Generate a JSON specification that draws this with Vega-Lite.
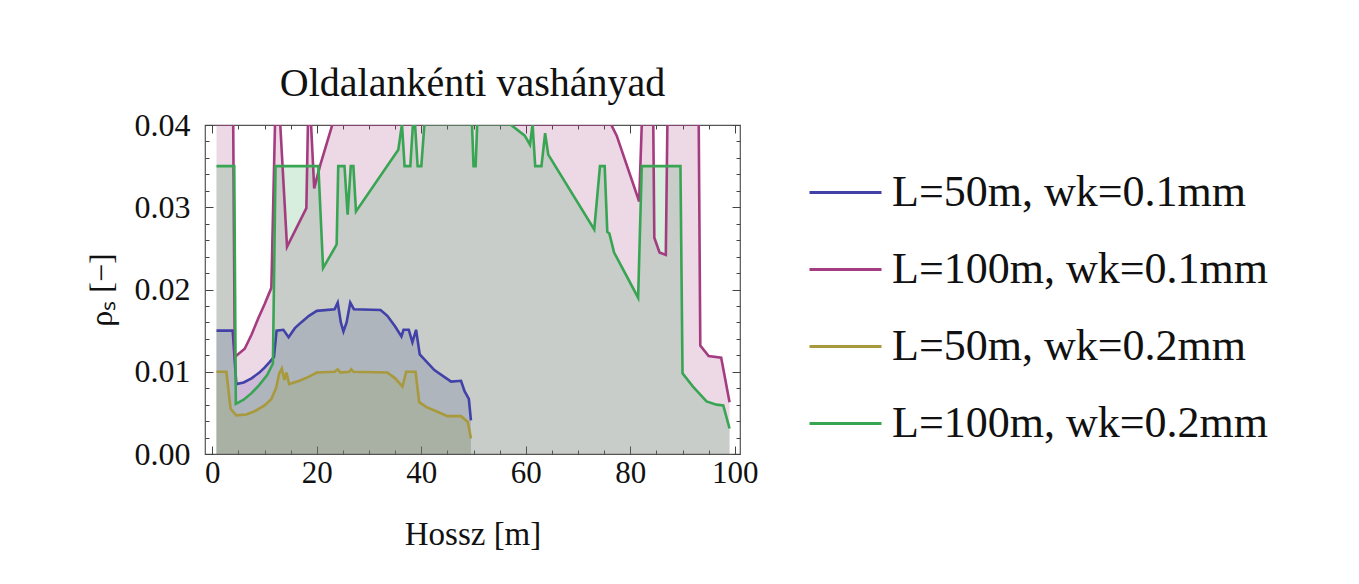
{
  "$schema": "https://vega.github.io/schema/vega-lite/v6.json",
  "autosize": {"type": "none"},
  "width": 535,
  "height": 329,
  "padding": {"left": 205, "top": 125, "right": 619, "bottom": 130},
  "background": "white",
  "config": {
    "font": "Liberation Serif",
    "view": {"stroke": "#555555", "strokeWidth": 1.2},
    "axis": {"labelFont": "Liberation Serif", "titleFont": "Liberation Serif", "labelColor": "#111", "titleColor": "#111", "titleFontWeight": "normal", "domain": false, "tickColor": "#444", "gridColor": "#8a8a8a", "gridWidth": 1},
    "legend": {"labelFont": "Liberation Serif"},
    "title": {"font": "Liberation Serif", "fontWeight": "normal", "color": "#111"}
  },
  "title": {"text": "Oldalankénti vashányad", "fontSize": 40, "anchor": "middle", "offset": 5},
  "data": {"values": [
    {"s": "L=50m, wk=0.1mm", "x": 0.8, "y": 0.0150},
    {"s": "L=50m, wk=0.1mm", "x": 3.9, "y": 0.0150},
    {"s": "L=50m, wk=0.1mm", "x": 4.6, "y": 0.0085},
    {"s": "L=50m, wk=0.1mm", "x": 6.0, "y": 0.0087},
    {"s": "L=50m, wk=0.1mm", "x": 7.5, "y": 0.0092},
    {"s": "L=50m, wk=0.1mm", "x": 9.0, "y": 0.0099},
    {"s": "L=50m, wk=0.1mm", "x": 10.0, "y": 0.0105},
    {"s": "L=50m, wk=0.1mm", "x": 11.0, "y": 0.0112},
    {"s": "L=50m, wk=0.1mm", "x": 11.8, "y": 0.0118},
    {"s": "L=50m, wk=0.1mm", "x": 12.3, "y": 0.0150},
    {"s": "L=50m, wk=0.1mm", "x": 13.6, "y": 0.0151},
    {"s": "L=50m, wk=0.1mm", "x": 14.6, "y": 0.0142},
    {"s": "L=50m, wk=0.1mm", "x": 15.8, "y": 0.0153},
    {"s": "L=50m, wk=0.1mm", "x": 17.0, "y": 0.0160},
    {"s": "L=50m, wk=0.1mm", "x": 18.5, "y": 0.0168},
    {"s": "L=50m, wk=0.1mm", "x": 20.0, "y": 0.0174},
    {"s": "L=50m, wk=0.1mm", "x": 23.4, "y": 0.0176},
    {"s": "L=50m, wk=0.1mm", "x": 24.0, "y": 0.0184},
    {"s": "L=50m, wk=0.1mm", "x": 24.6, "y": 0.0160},
    {"s": "L=50m, wk=0.1mm", "x": 25.1, "y": 0.0149},
    {"s": "L=50m, wk=0.1mm", "x": 25.7, "y": 0.0160},
    {"s": "L=50m, wk=0.1mm", "x": 26.4, "y": 0.0184},
    {"s": "L=50m, wk=0.1mm", "x": 27.1, "y": 0.0176},
    {"s": "L=50m, wk=0.1mm", "x": 32.2, "y": 0.0175},
    {"s": "L=50m, wk=0.1mm", "x": 33.5, "y": 0.0168},
    {"s": "L=50m, wk=0.1mm", "x": 35.0, "y": 0.0155},
    {"s": "L=50m, wk=0.1mm", "x": 36.2, "y": 0.0143},
    {"s": "L=50m, wk=0.1mm", "x": 36.6, "y": 0.0151},
    {"s": "L=50m, wk=0.1mm", "x": 37.6, "y": 0.0151},
    {"s": "L=50m, wk=0.1mm", "x": 38.3, "y": 0.0136},
    {"s": "L=50m, wk=0.1mm", "x": 39.0, "y": 0.0151},
    {"s": "L=50m, wk=0.1mm", "x": 39.7, "y": 0.0121},
    {"s": "L=50m, wk=0.1mm", "x": 42.5, "y": 0.0102},
    {"s": "L=50m, wk=0.1mm", "x": 45.7, "y": 0.0088},
    {"s": "L=50m, wk=0.1mm", "x": 47.6, "y": 0.0089},
    {"s": "L=50m, wk=0.1mm", "x": 48.3, "y": 0.0076},
    {"s": "L=50m, wk=0.1mm", "x": 49.1, "y": 0.0067},
    {"s": "L=50m, wk=0.1mm", "x": 49.5, "y": 0.0041},

    {"s": "L=100m, wk=0.1mm", "x": 0.8, "y": 0.0401},
    {"s": "L=100m, wk=0.1mm", "x": 4.0, "y": 0.0401},
    {"s": "L=100m, wk=0.1mm", "x": 4.3, "y": 0.0118},
    {"s": "L=100m, wk=0.1mm", "x": 6.2, "y": 0.0128},
    {"s": "L=100m, wk=0.1mm", "x": 7.5, "y": 0.0145},
    {"s": "L=100m, wk=0.1mm", "x": 8.8, "y": 0.0165},
    {"s": "L=100m, wk=0.1mm", "x": 10.0, "y": 0.0182},
    {"s": "L=100m, wk=0.1mm", "x": 11.3, "y": 0.0202},
    {"s": "L=100m, wk=0.1mm", "x": 12.0, "y": 0.0401},
    {"s": "L=100m, wk=0.1mm", "x": 13.0, "y": 0.0401},
    {"s": "L=100m, wk=0.1mm", "x": 14.3, "y": 0.0252},
    {"s": "L=100m, wk=0.1mm", "x": 18.0, "y": 0.0299},
    {"s": "L=100m, wk=0.1mm", "x": 18.3, "y": 0.0401},
    {"s": "L=100m, wk=0.1mm", "x": 18.9, "y": 0.0401},
    {"s": "L=100m, wk=0.1mm", "x": 19.5, "y": 0.0323},
    {"s": "L=100m, wk=0.1mm", "x": 20.6, "y": 0.0350},
    {"s": "L=100m, wk=0.1mm", "x": 23.0, "y": 0.0401},
    {"s": "L=100m, wk=0.1mm", "x": 76.3, "y": 0.0401},
    {"s": "L=100m, wk=0.1mm", "x": 77.4, "y": 0.0387},
    {"s": "L=100m, wk=0.1mm", "x": 81.7, "y": 0.0307},
    {"s": "L=100m, wk=0.1mm", "x": 82.2, "y": 0.0401},
    {"s": "L=100m, wk=0.1mm", "x": 84.4, "y": 0.0401},
    {"s": "L=100m, wk=0.1mm", "x": 84.6, "y": 0.0263},
    {"s": "L=100m, wk=0.1mm", "x": 85.6, "y": 0.0245},
    {"s": "L=100m, wk=0.1mm", "x": 86.8, "y": 0.0242},
    {"s": "L=100m, wk=0.1mm", "x": 87.1, "y": 0.0401},
    {"s": "L=100m, wk=0.1mm", "x": 93.1, "y": 0.0401},
    {"s": "L=100m, wk=0.1mm", "x": 93.4, "y": 0.0132},
    {"s": "L=100m, wk=0.1mm", "x": 95.0, "y": 0.0119},
    {"s": "L=100m, wk=0.1mm", "x": 97.4, "y": 0.0117},
    {"s": "L=100m, wk=0.1mm", "x": 99.0, "y": 0.0063},

    {"s": "L=50m, wk=0.2mm", "x": 0.8, "y": 0.0100},
    {"s": "L=50m, wk=0.2mm", "x": 2.7, "y": 0.0100},
    {"s": "L=50m, wk=0.2mm", "x": 3.5, "y": 0.0055},
    {"s": "L=50m, wk=0.2mm", "x": 4.6, "y": 0.0047},
    {"s": "L=50m, wk=0.2mm", "x": 6.5, "y": 0.0048},
    {"s": "L=50m, wk=0.2mm", "x": 8.1, "y": 0.0052},
    {"s": "L=50m, wk=0.2mm", "x": 10.0, "y": 0.0059},
    {"s": "L=50m, wk=0.2mm", "x": 11.3, "y": 0.0067},
    {"s": "L=50m, wk=0.2mm", "x": 12.2, "y": 0.0080},
    {"s": "L=50m, wk=0.2mm", "x": 12.8, "y": 0.0098},
    {"s": "L=50m, wk=0.2mm", "x": 13.3, "y": 0.0104},
    {"s": "L=50m, wk=0.2mm", "x": 13.8, "y": 0.0090},
    {"s": "L=50m, wk=0.2mm", "x": 14.2, "y": 0.0099},
    {"s": "L=50m, wk=0.2mm", "x": 14.7, "y": 0.0085},
    {"s": "L=50m, wk=0.2mm", "x": 16.7, "y": 0.0089},
    {"s": "L=50m, wk=0.2mm", "x": 18.5, "y": 0.0094},
    {"s": "L=50m, wk=0.2mm", "x": 20.0, "y": 0.0099},
    {"s": "L=50m, wk=0.2mm", "x": 23.4, "y": 0.0100},
    {"s": "L=50m, wk=0.2mm", "x": 24.0, "y": 0.0103},
    {"s": "L=50m, wk=0.2mm", "x": 24.5, "y": 0.0099},
    {"s": "L=50m, wk=0.2mm", "x": 26.2, "y": 0.0100},
    {"s": "L=50m, wk=0.2mm", "x": 26.6, "y": 0.0103},
    {"s": "L=50m, wk=0.2mm", "x": 27.0, "y": 0.0100},
    {"s": "L=50m, wk=0.2mm", "x": 33.5, "y": 0.0099},
    {"s": "L=50m, wk=0.2mm", "x": 35.0, "y": 0.0092},
    {"s": "L=50m, wk=0.2mm", "x": 36.4, "y": 0.0082},
    {"s": "L=50m, wk=0.2mm", "x": 37.1, "y": 0.0100},
    {"s": "L=50m, wk=0.2mm", "x": 38.9, "y": 0.0100},
    {"s": "L=50m, wk=0.2mm", "x": 39.6, "y": 0.0063},
    {"s": "L=50m, wk=0.2mm", "x": 41.0, "y": 0.0057},
    {"s": "L=50m, wk=0.2mm", "x": 43.2, "y": 0.0051},
    {"s": "L=50m, wk=0.2mm", "x": 45.0, "y": 0.0046},
    {"s": "L=50m, wk=0.2mm", "x": 47.6, "y": 0.0046},
    {"s": "L=50m, wk=0.2mm", "x": 48.9, "y": 0.0039},
    {"s": "L=50m, wk=0.2mm", "x": 49.5, "y": 0.0019},

    {"s": "L=100m, wk=0.2mm", "x": 0.8, "y": 0.0350},
    {"s": "L=100m, wk=0.2mm", "x": 4.2, "y": 0.0350},
    {"s": "L=100m, wk=0.2mm", "x": 4.5, "y": 0.0061},
    {"s": "L=100m, wk=0.2mm", "x": 6.0, "y": 0.0066},
    {"s": "L=100m, wk=0.2mm", "x": 7.5, "y": 0.0074},
    {"s": "L=100m, wk=0.2mm", "x": 9.0, "y": 0.0084},
    {"s": "L=100m, wk=0.2mm", "x": 10.5, "y": 0.0096},
    {"s": "L=100m, wk=0.2mm", "x": 11.6, "y": 0.0110},
    {"s": "L=100m, wk=0.2mm", "x": 12.1, "y": 0.0350},
    {"s": "L=100m, wk=0.2mm", "x": 20.3, "y": 0.0350},
    {"s": "L=100m, wk=0.2mm", "x": 21.2, "y": 0.0226},
    {"s": "L=100m, wk=0.2mm", "x": 23.2, "y": 0.0248},
    {"s": "L=100m, wk=0.2mm", "x": 23.8, "y": 0.0255},
    {"s": "L=100m, wk=0.2mm", "x": 24.1, "y": 0.0350},
    {"s": "L=100m, wk=0.2mm", "x": 25.3, "y": 0.0350},
    {"s": "L=100m, wk=0.2mm", "x": 25.9, "y": 0.0291},
    {"s": "L=100m, wk=0.2mm", "x": 26.5, "y": 0.0350},
    {"s": "L=100m, wk=0.2mm", "x": 27.0, "y": 0.0350},
    {"s": "L=100m, wk=0.2mm", "x": 27.5, "y": 0.0295},
    {"s": "L=100m, wk=0.2mm", "x": 35.6, "y": 0.0370},
    {"s": "L=100m, wk=0.2mm", "x": 36.3, "y": 0.0401},
    {"s": "L=100m, wk=0.2mm", "x": 36.8, "y": 0.0350},
    {"s": "L=100m, wk=0.2mm", "x": 37.9, "y": 0.0350},
    {"s": "L=100m, wk=0.2mm", "x": 38.4, "y": 0.0401},
    {"s": "L=100m, wk=0.2mm", "x": 38.8, "y": 0.0401},
    {"s": "L=100m, wk=0.2mm", "x": 39.3, "y": 0.0350},
    {"s": "L=100m, wk=0.2mm", "x": 40.0, "y": 0.0350},
    {"s": "L=100m, wk=0.2mm", "x": 40.6, "y": 0.0401},
    {"s": "L=100m, wk=0.2mm", "x": 49.7, "y": 0.0401},
    {"s": "L=100m, wk=0.2mm", "x": 50.0, "y": 0.0350},
    {"s": "L=100m, wk=0.2mm", "x": 50.4, "y": 0.0350},
    {"s": "L=100m, wk=0.2mm", "x": 50.7, "y": 0.0401},
    {"s": "L=100m, wk=0.2mm", "x": 57.0, "y": 0.0401},
    {"s": "L=100m, wk=0.2mm", "x": 59.8, "y": 0.0387},
    {"s": "L=100m, wk=0.2mm", "x": 60.8, "y": 0.0376},
    {"s": "L=100m, wk=0.2mm", "x": 61.3, "y": 0.0401},
    {"s": "L=100m, wk=0.2mm", "x": 61.8, "y": 0.0350},
    {"s": "L=100m, wk=0.2mm", "x": 63.0, "y": 0.0350},
    {"s": "L=100m, wk=0.2mm", "x": 63.7, "y": 0.0390},
    {"s": "L=100m, wk=0.2mm", "x": 64.3, "y": 0.0364},
    {"s": "L=100m, wk=0.2mm", "x": 73.1, "y": 0.0273},
    {"s": "L=100m, wk=0.2mm", "x": 74.2, "y": 0.0350},
    {"s": "L=100m, wk=0.2mm", "x": 75.1, "y": 0.0350},
    {"s": "L=100m, wk=0.2mm", "x": 75.6, "y": 0.0270},
    {"s": "L=100m, wk=0.2mm", "x": 76.0, "y": 0.0268},
    {"s": "L=100m, wk=0.2mm", "x": 76.9, "y": 0.0245},
    {"s": "L=100m, wk=0.2mm", "x": 81.5, "y": 0.0190},
    {"s": "L=100m, wk=0.2mm", "x": 82.2, "y": 0.0350},
    {"s": "L=100m, wk=0.2mm", "x": 89.6, "y": 0.0350},
    {"s": "L=100m, wk=0.2mm", "x": 90.0, "y": 0.0098},
    {"s": "L=100m, wk=0.2mm", "x": 92.0, "y": 0.0082},
    {"s": "L=100m, wk=0.2mm", "x": 94.6, "y": 0.0064},
    {"s": "L=100m, wk=0.2mm", "x": 96.5, "y": 0.0060},
    {"s": "L=100m, wk=0.2mm", "x": 97.8, "y": 0.0059},
    {"s": "L=100m, wk=0.2mm", "x": 99.0, "y": 0.0031}
  ]},
  "resolve": {"axis": {"x": "independent", "y": "independent"}},
  "layer": [
    {
      "mark": {"type": "area", "clip": true, "fillOpacity": 0.2},
      "encoding": {
        "x": {"field": "x", "type": "quantitative", "scale": {"domain": [-1.4, 101], "nice": false, "zero": false},
          "axis": {"orient": "top", "title": null, "labels": false, "grid": false,
            "values": [0,5,10,15,20,25,30,35,40,45,50,55,60,65,70,75,80,85,90,95,100],
            "tickSize": {"condition": {"test": "datum.value % 20 === 0", "value": -8}, "value": -4}}},
        "y": {"field": "y", "type": "quantitative", "stack": null, "scale": {"domain": [0, 0.04], "nice": false},
          "axis": {"orient": "right", "title": null, "labels": false, "grid": false,
            "values": [0,0.002,0.004,0.006,0.008,0.01,0.012,0.014,0.016,0.018,0.02,0.022,0.024,0.026,0.028,0.03,0.032,0.034,0.036,0.038,0.04],
            "tickSize": {"condition": {"test": "abs(datum.value*100 - round(datum.value*100)) < 0.000001", "value": -8}, "value": -4}}},
        "color": {"field": "s", "type": "nominal",
          "scale": {"domain": ["L=50m, wk=0.1mm", "L=100m, wk=0.1mm", "L=50m, wk=0.2mm", "L=100m, wk=0.2mm"],
            "range": ["#4141a8", "#a43c80", "#a89a3c", "#38a553"]},
          "legend": {"title": null, "orient": "none", "legendX": 603, "legendY": 30, "padding": 0,
            "symbolType": "stroke", "symbolSize": 5184, "symbolStrokeWidth": 3, "symbolOpacity": 1, "labelFontSize": 44, "labelOffset": 9, "rowPadding": 17, "labelLimit": 700, "labelColor": "#111"}}
      }
    },
    {
      "mark": {"type": "line", "clip": true, "strokeWidth": 2.6},
      "encoding": {
        "x": {"field": "x", "type": "quantitative",
          "axis": {"orient": "bottom", "title": "Hossz [m]", "titleFontSize": 33, "titlePadding": 30, "labelFontSize": 31, "labelPadding": 12,
            "values": [0,5,10,15,20,25,30,35,40,45,50,55,60,65,70,75,80,85,90,95,100],
            "labelExpr": "datum.value % 20 === 0 ? datum.label : ''",
            "gridOpacity": {"condition": {"test": "datum.value % 20 === 0", "value": 1}, "value": 0},
            "tickSize": {"condition": {"test": "datum.value % 20 === 0", "value": -8}, "value": -4}}},
        "y": {"field": "y", "type": "quantitative",
          "axis": {"orient": "left", "title": "ρₛ [−]", "titleFontSize": 32, "titlePadding": 16, "labelFontSize": 32, "labelPadding": 23, "format": ".2f",
            "values": [0,0.002,0.004,0.006,0.008,0.01,0.012,0.014,0.016,0.018,0.02,0.022,0.024,0.026,0.028,0.03,0.032,0.034,0.036,0.038,0.04],
            "labelExpr": "abs(datum.value*100 - round(datum.value*100)) < 0.000001 ? datum.label : ''",
            "gridOpacity": {"condition": {"test": "abs(datum.value*100 - round(datum.value*100)) < 0.000001", "value": 1}, "value": 0},
            "tickSize": {"condition": {"test": "abs(datum.value*100 - round(datum.value*100)) < 0.000001", "value": -8}, "value": -4}}},
        "color": {"field": "s", "type": "nominal",
          "scale": {"domain": ["L=50m, wk=0.1mm", "L=100m, wk=0.1mm", "L=50m, wk=0.2mm", "L=100m, wk=0.2mm"],
            "range": ["#4141a8", "#a43c80", "#a89a3c", "#38a553"]},
          "legend": {"title": null, "orient": "none", "legendX": 603, "legendY": 30, "padding": 0,
            "symbolType": "stroke", "symbolSize": 5184, "symbolStrokeWidth": 3, "symbolOpacity": 1, "labelFontSize": 44, "labelOffset": 9, "rowPadding": 17, "labelLimit": 700, "labelColor": "#111"}}
      }
    }
  ]
}
